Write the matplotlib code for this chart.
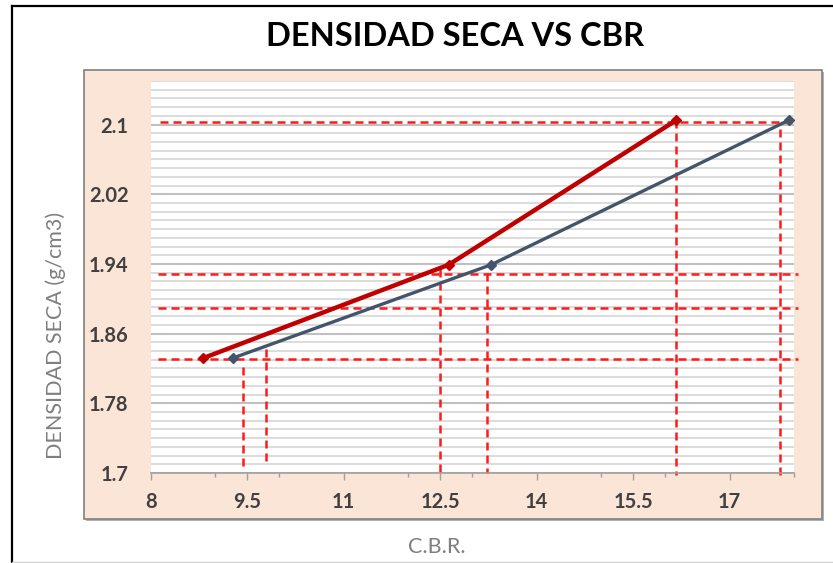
import matplotlib.pyplot as plt
from matplotlib.patches import Rectangle
from matplotlib.lines import Line2D
from matplotlib.ticker import MultipleLocator

plt.rcParams['font.family'] = ['Lato', 'DejaVu Sans']

# series (CBR vs dry density)
cbr_rojo = [8.82, 12.63, 16.17]
dens_rojo = [1.832, 1.939, 2.105]
cbr_azul = [9.28, 13.29, 17.92]
dens_azul = [1.832, 1.939, 2.105]

# dashed reference lines: (y, x_start, x_end)
h_refs = [(2.103, 8.15, 17.99), (1.929, 8.11, 18.06),
          (1.889, 8.11, 18.06), (1.831, 8.11, 18.06)]
# (x, y_top, y_bottom)
v_refs = [(9.43, 1.822, 1.706), (9.79, 1.842, 1.709),
          (12.50, 1.934, 1.696), (13.23, 1.930, 1.700),
          (16.17, 2.105, 1.698), (17.78, 2.095, 1.692)]

W, H = 833, 563
fig = plt.figure(figsize=(W / 100, H / 100), dpi=100)

def fx(px):
    return px / W

def fy(py):
    return 1 - py / H

# outer frame
fig.add_artist(Line2D([fx(12), fx(12)], [fy(6), fy(562)], color='black', lw=1.6))
fig.add_artist(Line2D([fx(12), 1], [fy(6), fy(6)], color='black', lw=1.6))
fig.add_artist(Line2D([fx(12), 1], [fy(561.5), fy(561.5)], color='#d0d0d0', lw=1))

# peach plot background with shadow
fig.add_artist(Rectangle((fx(86), fy(521)), fx(738), 449 / H, facecolor='#b0b0b0',
                         edgecolor='none', zorder=0))
fig.add_artist(Rectangle((fx(84), fy(519)), fx(738), 449 / H, facecolor='#fbe5d6',
                         edgecolor='#808080', lw=1.2, zorder=0.5))

ax = fig.add_axes([fx(150.7), fy(473), fx(794 - 150.7), (473 - 81) / H])
ax.set_facecolor('white')
ax.set_zorder(1)

ax.set_xlim(8, 18)
ax.set_ylim(1.7, 2.15)
ax.xaxis.set_major_locator(MultipleLocator(1.5))
ax.xaxis.set_minor_locator(MultipleLocator(1))
ax.yaxis.set_minor_locator(MultipleLocator(0.01))
ax.set_yticks([1.7, 1.78, 1.86, 1.94, 2.02, 2.1])
ax.set_yticklabels(['1.7', '1.78', '1.86', '1.94', '2.02', '2.1'])
ax.set_xticks([8, 9.5, 11, 12.5, 14, 15.5, 17])
ax.set_xticklabels(['8', '9.5', '11', '12.5', '14', '15.5', '17'])

ax.grid(True, which='minor', axis='y', color='#d9d9d9', lw=1.3)
ax.grid(True, which='major', axis='y', color='#c0c0c0', lw=1.5)
ax.set_axisbelow(True)

for s in ['top', 'right', 'left']:
    ax.spines[s].set_visible(False)
ax.spines['bottom'].set_color('#a0a0a0')
ax.spines['bottom'].set_linewidth(1.2)

ax.tick_params(axis='y', which='both', length=0)
ax.tick_params(axis='y', pad=16, labelsize=14.5, labelcolor='#404040')
ax.tick_params(axis='x', which='major', length=5, width=1, color='#a0a0a0',
               pad=9, labelsize=14.5, labelcolor='#404040')
ax.tick_params(axis='x', which='minor', length=3, width=1, color='#a0a0a0')
for lab in ax.get_xticklabels() + ax.get_yticklabels():
    lab.set_fontweight('bold')

dash = (0, (3.2, 2.0))
for y, x0, x1 in h_refs:
    ax.plot([x0, x1], [y, y], color='#ff1a1a', lw=1.8, linestyle=dash,
            clip_on=False, zorder=2)
for x, y0, y1 in v_refs:
    ax.plot([x, x], [y0, y1], color='#ff1a1a', lw=1.8, linestyle=dash,
            clip_on=False, zorder=2)

ax.plot(cbr_azul, dens_azul, color='#44546a', lw=2.4, marker='D', ms=5, zorder=3)
ax.plot(cbr_rojo, dens_rojo, color='#c00000', lw=3.2, marker='D', ms=5, zorder=4)

fig.text(fx(455), fy(37), 'DENSIDAD SECA VS CBR', ha='center', va='center',
         fontsize=23.5, fontweight='bold', color='black')
fig.text(fx(56), fy(335), 'DENSIDAD SECA (g/cm3)', ha='center', va='center',
         rotation=90, fontsize=15.5, color='#7f7f7f')
fig.text(fx(437), fy(547), 'C.B.R.', ha='center', va='center',
         fontsize=15.5, color='#7f7f7f')

fig.savefig('out.png', dpi=100)
